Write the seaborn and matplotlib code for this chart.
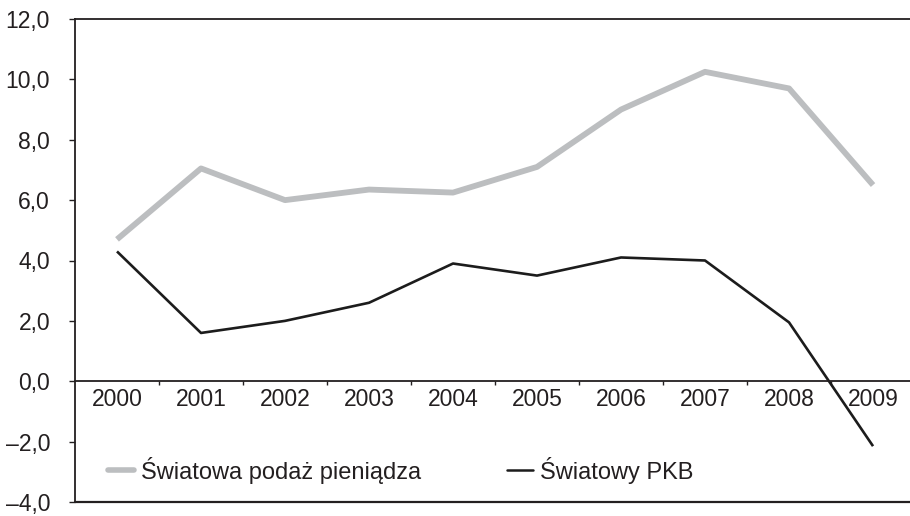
import pandas as pd
import matplotlib
matplotlib.use('Agg')
import matplotlib.pyplot as plt
import seaborn as sns

# Data
years = ['2000', '2001', '2002', '2003', '2004', '2005', '2006', '2007', '2008', '2009']
money_supply = [4.7, 7.05, 6.0, 6.35, 6.25, 7.1, 9.0, 10.25, 9.7, 6.5]
world_gdp = [4.3, 1.6, 2.0, 2.6, 3.9, 3.5, 4.1, 4.0, 1.95, -2.15]
series_names = ['Światowa podaż pieniądza', 'Światowy PKB']
y_ticks = [-4, -2, 0, 2, 4, 6, 8, 10, 12]
y_tick_labels = ['–4,0', '–2,0', '0,0', '2,0', '4,0', '6,0', '8,0', '10,0', '12,0']

df = pd.DataFrame({
    'pos': list(range(len(years))) * 2,
    'value': money_supply + world_gdp,
    'series': [series_names[0]] * len(years) + [series_names[1]] * len(years),
})

sns.set_style('white')
plt.rcParams['font.family'] = ['Liberation Sans', 'DejaVu Sans']
plt.rcParams['font.size'] = 16.5
text_col = '#231f20'
gray_col = '#bcbec0'

fig = plt.figure(figsize=(9.1, 5.16), dpi=100)
ax = fig.add_axes([75 / 910, 14 / 516, 835 / 910, 483 / 516])

sns.lineplot(data=df, x='pos', y='value', hue='series', hue_order=series_names,
             palette=[gray_col, '#1c1c1c'], ax=ax, legend=False)
# line widths per series
for line, lw in zip(ax.lines, [4.2, 1.9]):
    line.set_linewidth(lw)
    line.set_solid_capstyle('butt')

ax.set_xlim(-0.5, 9.44)
ax.set_ylim(-4, 12)
ax.set_xlabel('')
ax.set_ylabel('')

# y axis
ax.set_yticks(y_ticks)
ax.set_yticklabels(y_tick_labels, color=text_col)
ax.tick_params(axis='y', direction='out', length=4, width=1, color=text_col,
               pad=14, labelsize=16.5, left=True)

# category axis drawn on the zero line
ax.spines['bottom'].set_position(('data', 0))
ax.set_xticks(range(len(years)))
ax.set_xticklabels(years, color=text_col)
ax.set_xticks([i + 0.5 for i in range(len(years) - 1)], minor=True)
ax.tick_params(axis='x', which='major', length=0, pad=5, labelsize=16.5, bottom=True)
ax.tick_params(axis='x', which='minor', direction='out', length=3, width=1,
               color=text_col, bottom=True)

for side in ['left', 'bottom', 'top']:
    ax.spines[side].set_visible(True)
    ax.spines[side].set_color(text_col)
    ax.spines[side].set_linewidth(1.3)
ax.spines['right'].set_visible(False)
ax.axhline(-4, color=text_col, linewidth=1.6, clip_on=False)

handles = [plt.Line2D([], [], color=gray_col, linewidth=4),
           plt.Line2D([], [], color='#1c1c1c', linewidth=1.8)]
leg = ax.legend(handles, series_names, loc='center left', bbox_to_anchor=(0.04, 0.066),
                ncol=2, frameon=False, borderaxespad=0, borderpad=0,
                handlelength=1.1, handletextpad=0.3, columnspacing=3.6, fontsize=17)
for t in leg.get_texts():
    t.set_color(text_col)

plt.savefig('out.png', dpi=100)
